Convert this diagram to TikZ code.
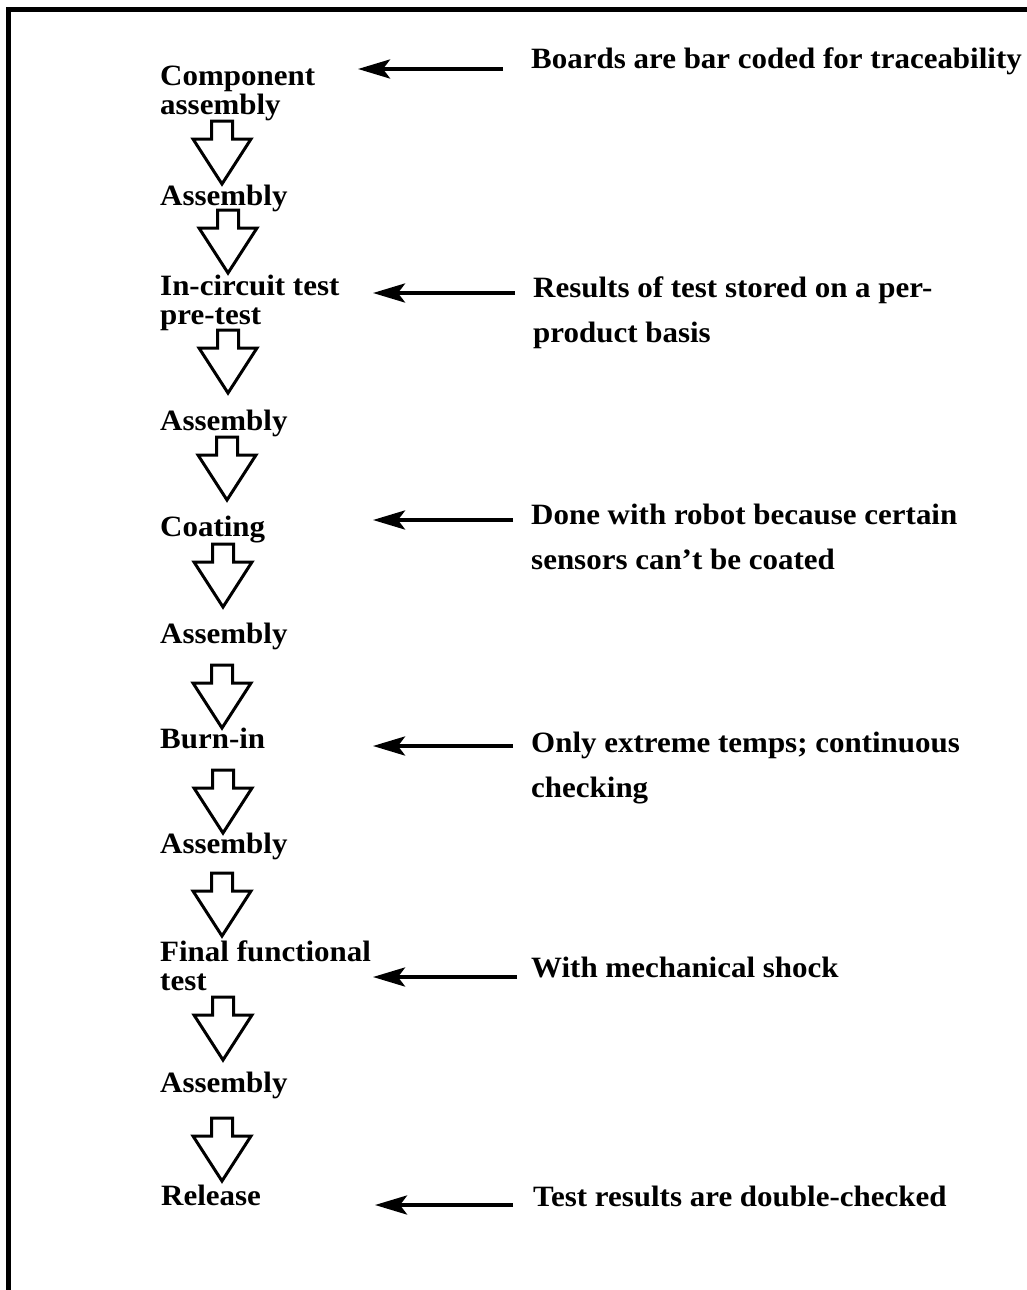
\documentclass[tikz,border=0pt]{standalone}
\usepackage{fontspec}
\setmainfont{Liberation Serif}
\newfontfamily\labelfont[FakeStretch=1.05]{Liberation Serif}
\usetikzlibrary{arrows.meta}

\begin{document}
\begin{tikzpicture}[x=1pt,y=-1pt,
  steplabel/.style={anchor=base west, inner sep=0pt, align=left,
    font=\labelfont\bfseries\fontsize{29.5}{29}\selectfont},
  notelabel/.style={anchor=base west, inner sep=0pt, align=left,
    font=\labelfont\bfseries\fontsize{29.5}{45}\selectfont},
  blockline/.style={line width=3pt, line join=miter},
  pointer/.style={line width=4pt, -{Stealth[length=32pt,width=19pt,inset=7pt]}},
  frameline/.style={line width=5pt, line join=miter},
  flowarrow/.pic={\draw[blockline] (-10.5,0) -- (10.5,0) -- (10.5,18) -- (29,18)
     -- (0,63) -- (-29,18) -- (-10.5,18) -- cycle;}
]
\useasboundingbox (0,0) rectangle (1027,1290);

% open frame: top rule and left rule
\draw[frameline] (8.5,1290) -- (8.5,10) -- (1027,10);

% process steps (base anchor sits on the last line)
\node[steplabel] (s1)  at (160,114)  {Component\\assembly};
\node[steplabel] (s2)  at (160,205)  {Assembly};
\node[steplabel] (s3)  at (160,324)  {In-circuit test\\pre-test};
\node[steplabel] (s4)  at (160,430)  {Assembly};
\node[steplabel] (s5)  at (160,536)  {Coating};
\node[steplabel] (s6)  at (160,643)  {Assembly};
\node[steplabel] (s7)  at (160,748)  {Burn-in};
\node[steplabel] (s8)  at (160,853)  {Assembly};
\node[steplabel] (s9)  at (160,990)  {Final functional\\test};
\node[steplabel] (s10) at (160,1092) {Assembly};
\node[steplabel] (s11) at (161,1205) {Release};

% hollow block arrows between the steps
\pic at (222,121)  {flowarrow};
\pic at (228,210)  {flowarrow};
\pic at (228,330)  {flowarrow};
\pic at (227,437)  {flowarrow};
\pic at (223,544)  {flowarrow};
\pic at (222,665)  {flowarrow};
\pic at (223,770)  {flowarrow};
\pic at (222,873)  {flowarrow};
\pic at (223,997)  {flowarrow};
\pic at (222,1118) {flowarrow};

% remarks on the right
\node[notelabel] (n1) at (531,69)   {Boards are bar coded for traceability};
\node[notelabel] (n2) at (533,342)  {Results of test stored on a per-\\product basis};
\node[notelabel] (n3) at (531,569)  {Done with robot because certain\\sensors can’t be coated};
\node[notelabel] (n4) at (531,797)  {Only extreme temps; continuous\\checking};
\node[notelabel] (n5) at (531,977)  {With mechanical shock};
\node[notelabel] (n6) at (533,1206) {Test results are double-checked};

% pointer targets beside the steps
\coordinate (t1) at (358,69);
\coordinate (t2) at (373,293);
\coordinate (t3) at (373,520);
\coordinate (t4) at (373,746);
\coordinate (t5) at (373,977);
\coordinate (t6) at (375,1205);

\draw[pointer] ([shift={(-28,0)}]n1.base west) -- (t1);
\draw[pointer] ([shift={(-18,-49)}]n2.base west) -- (t2);
\draw[pointer] ([shift={(-18,-49)}]n3.base west) -- (t3);
\draw[pointer] ([shift={(-18,-51)}]n4.base west) -- (t4);
\draw[pointer] ([shift={(-14,0)}]n5.base west) -- (t5);
\draw[pointer] ([shift={(-20,-1)}]n6.base west) -- (t6);
\end{tikzpicture}
\end{document}
